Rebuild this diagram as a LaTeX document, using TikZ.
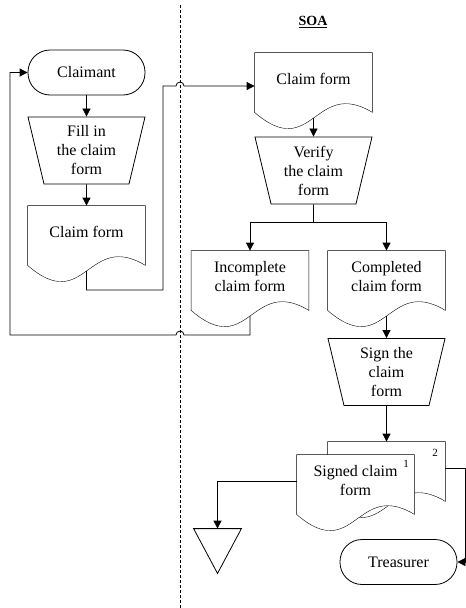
\documentclass[tikz,border=0pt]{standalone}
\usepackage{fontspec}
\setmainfont{Liberation Serif}
\usetikzlibrary{arrows.meta,shapes.geometric,backgrounds,calc}
\tikzstyle{flow} = [-{Triangle[length=8pt,width=8pt]}, line width=0.8pt]
\tikzstyle{terminal} = [rectangle, rounded corners=22pt, draw, minimum width=117pt, minimum height=45pt]
\tikzstyle{task} = [trapezium, trapezium left angle=72, trapezium right angle=72, shape border rotate=180, trapezium stretches body, draw, minimum width=117pt, minimum height=67pt, inner sep=0pt, align=center]
\tikzstyle{docbox} = [rectangle, minimum width=117pt, minimum height=52pt, inner sep=0pt, align=center]
\tikzstyle{storebox} = [rectangle, minimum width=47pt, minimum height=44pt, inner sep=0pt]

\begin{document}
\begin{tikzpicture}[x=1pt, y=-1pt, line width=0.8pt, font=\fontsize{16}{19}\selectfont]
    \useasboundingbox (0,0) rectangle (466,608);
    % lane divider
    \coordinate (divtop) at (180,5);
    \coordinate (divbot) at (180,608);
    \draw[densely dashed, line width=0.6pt] (divtop) -- (divbot);

    % Claimant lane
    \node[terminal] (claimant) at (86.5,72.5) {Claimant};
    \node[task] (fill) at (86.5,150.5) {Fill in\\the claim\\form};
    \node[docbox] (cf1) at (86.5,232) {Claim form};

    % SOA lane
    \node[font=\fontsize{14}{17}\selectfont\bfseries] (soa) at (313,22) {\underline{SOA}};
    \node[docbox] (cf2) at (313.5,79) {Claim form};
    \node[task] (verify) at (313.5,170.5) {Verify\\the claim\\form};
    \node[docbox] (inc) at (250,277) {Incomplete\\claim form};
    \node[docbox] (comp) at (386.5,277) {Completed\\claim form};
    \node[task] (sign) at (386.5,372) {Sign the\\claim\\form};
    \node[docbox] (sig2) at (386.5,468) {};
    \node[docbox] (sig1) at (355.5,481) {Signed claim\\form};
    \node[font=\fontsize{11}{13}\selectfont] (copy2) at (435,453) {2};
    \node[font=\fontsize{11}{13}\selectfont] (copy1) at (406,464) {1};
    \node[storebox] (store) at (217.5,551) {};
    \node[terminal] (treas) at (398.5,562) {Treasurer};

    % document outlines
    \begin{scope}[on background layer]
        \foreach \d in {cf1,cf2,inc,comp,sig2,sig1} {
            \draw[fill=white] (\d.north west) -- ([yshift=-7pt]\d.south west)
                .. controls +(58,50) and +(-58,-35) .. ([yshift=-7pt]\d.south east)
                -- (\d.north east) -- cycle;
            \coordinate (\d-b) at ([yshift=-12.6pt]\d.south);
        }
    \end{scope}
    \draw (store.north west) -- (store.north east) -- (store.south) -- cycle;

    % connectors
    \coordinate (bend1) at (163,290);
    \coordinate (cf2in) at ([yshift=-7pt]cf2.west);
    \coordinate (split) at (313.5,222);
    \coordinate (loop) at (10,335);
    \draw[flow] (claimant) -- (fill);
    \draw[flow] (fill) -- (cf1);
    \draw[flow] (cf1-b) |- (bend1) |- ($(divtop |- cf2in)+(-4,0)$)
        arc[start angle=180, end angle=0, radius=4pt] -- (cf2in);
    \draw[flow] (cf2-b) -- (verify);
    \draw (verify) -- (split);
    \draw[flow] (split) -| (inc);
    \draw[flow] (split) -| (comp);
    \draw[flow] (inc-b) |- ($(divtop |- loop)+(4,0)$)
        arc[start angle=0, end angle=180, radius=4pt] -- (loop) |- (claimant.west);
    \draw[flow] (comp-b) -- (sign);
    \draw[flow] (sign) -- (sig2);
    \draw[flow] (sig1.west) -| (store.north);
    \draw[flow] (sig2.east) -- ++(20,0) |- (treas.east);
\end{tikzpicture}
\end{document}
